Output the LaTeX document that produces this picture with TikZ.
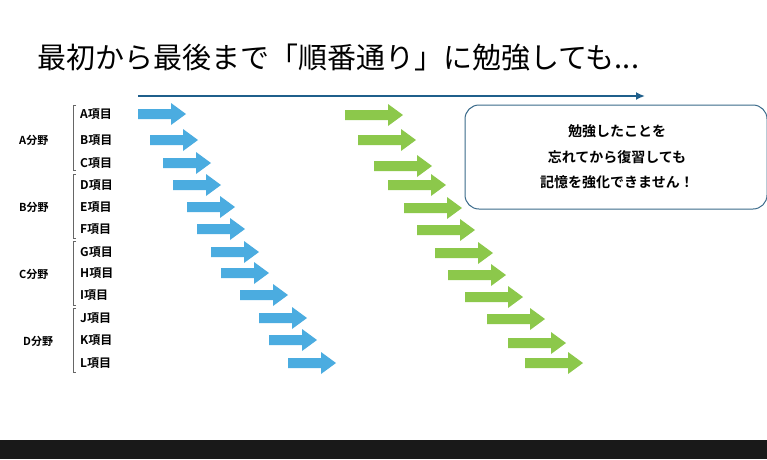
\documentclass[tikz,border=0pt]{standalone}
\usepackage{fontspec}
\usetikzlibrary{arrows.meta}
\setmainfont{Noto Sans CJK JP}[BoldFont={Noto Sans CJK JP Bold}]
\definecolor{blu}{HTML}{4BACE0}
\definecolor{grn}{HTML}{8CC84B}
\definecolor{dblue}{HTML}{1F5F8B}
\definecolor{boxb}{HTML}{3A6A8A}
\tikzset{
 lbl/.style={font=\bfseries\fontsize{12}{14}\selectfont, anchor=west, inner sep=0},
 grp/.style={font=\bfseries\fontsize{11}{13}\selectfont, anchor=west, inner sep=0},
 pics/arr/.style args={#1/#2}{code={\fill[#1] (0,-5)--(#2-15,-5)--(#2-15,-11)--(#2,0)--(#2-15,11)--(#2-15,5)--(0,5)--cycle;}}
}
\begin{document}
\begin{tikzpicture}[x=1pt,y=-1pt]
\useasboundingbox (0,0) rectangle (767,459);
\fill[white] (0,0) rectangle (767,459);
\fill[black!90] (0,440) rectangle (767,459);
\node[anchor=west,inner sep=0,font=\fontsize{29}{32}\selectfont] (title) at (37,58) {最初から最後まで「順番通り」に勉強しても...};
\coordinate (ts) at (138,96); \coordinate (te) at (645,96);
\draw[dblue,line width=2.5pt,-{Latex[length=9pt,width=8pt]}] (ts) -- (te);
% items
\foreach \n/\y in {A/114,B/140,C/163,D/185,E/207,F/229,G/252,H/273,I/295,J/318,K/340,L/363}
  \node[lbl] (it\n) at (80,\y) {{\n}項目};
\foreach \n/\y/\x in {A/140/19,B/207/19,C/274/19,D/341/23}
  \node[grp] (g\n) at (\x,\y) {{\n}分野};
\foreach \a/\b in {105/170,174/238,241/305,308/372}
  \draw[black!60,line width=0.8pt] (76,\a)--(73,\a)--(73,\b)--(76,\b);
% blue arrows
\foreach \x/\y in {138/114,150/140,163/163,173/185,187/207,197/229,211/252,221/273,240/295,259/318,269/340,288/363}
  \pic at (\x,\y) {arr={blu/48}};
% green arrows
\foreach \x/\y in {345/115,358/140,374/166,388/185,404/208,417/230,435/253,448/275,465/297,487/319,508/343,525/363}
  \pic at (\x,\y) {arr={grn/58}};
\node[draw=boxb,line width=1pt,rounded corners=14pt,minimum width=302pt,minimum height=104pt,inner sep=0] (box) at (616,157) {};
\node[align=center,font=\bfseries\fontsize{14}{25.5}\selectfont] (msg) at (617,157) {勉強したことを\\忘れてから復習しても\\記憶を強化できません！};
\end{tikzpicture}
\end{document}
